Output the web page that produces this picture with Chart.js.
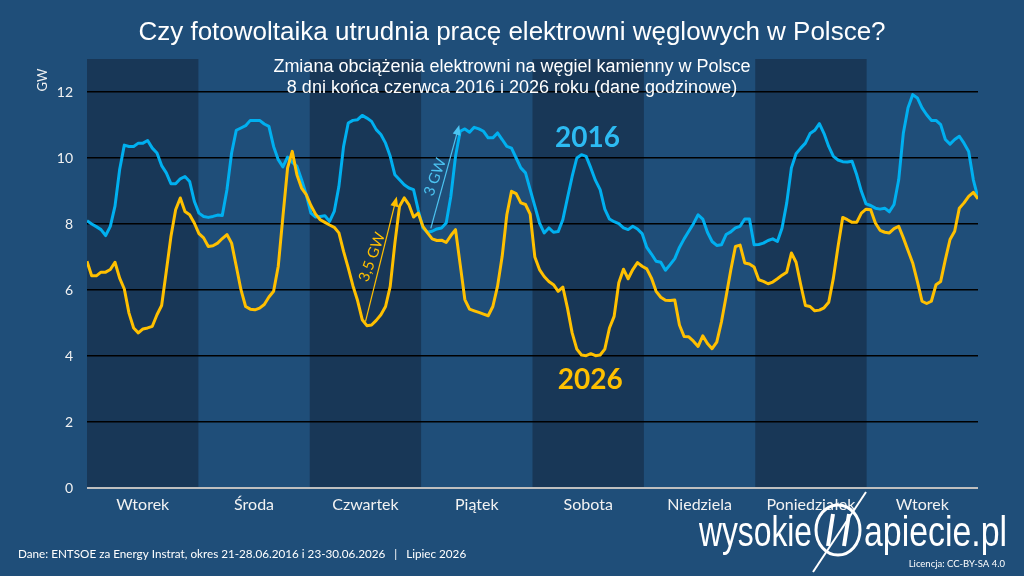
<!DOCTYPE html>
<html lang="pl">
<head>
<meta charset="utf-8">
<title>Czy fotowoltaika utrudnia pracę elektrowni węglowych w Polsce?</title>
<script src="https://cdn.jsdelivr.net/npm/chart.js@4.4.1/dist/chart.umd.min.js"></script>
<style>
    html, body { margin: 0; padding: 0; background: #1F4E79; }
    #wykres { display: block; }
</style>
</head>
<body>
<canvas id="wykres" width="1024" height="576"></canvas>
<script>
// ==============================================
// Dane (GW, dane godzinowe, 8 dni = 192 godziny)
// ==============================================

const dni = ['Wtorek', 'Środa', 'Czwartek', 'Piątek', 'Sobota', 'Niedziela', 'Poniedziałek', 'Wtorek'];

const yTicks = [0, 2, 4, 6, 8, 10, 12];

// 21-28.06.2016
const obciazenie2016 = [
    8.10, 8.00, 7.92, 7.83, 7.65, 7.93, 8.54, 9.65, 10.39, 10.35, 10.35, 10.45, 10.45, 10.53, 10.30, 10.15, 9.77, 9.55, 9.22, 9.22, 9.37, 9.44, 9.29, 8.69,
    8.33, 8.23, 8.20, 8.23, 8.27, 8.26, 9.04, 10.15, 10.84, 10.91, 10.98, 11.14, 11.14, 11.14, 11.03, 10.96, 10.35, 9.95, 9.73, 10.03, 9.87, 9.75, 9.34, 8.89,
    8.33, 8.21, 8.23, 8.25, 8.08, 8.38, 9.14, 10.35, 11.06, 11.14, 11.16, 11.29, 11.21, 11.11, 10.86, 10.71, 10.45, 10.05, 9.49, 9.34, 9.19, 9.09, 9.04, 8.43,
    7.88, 7.75, 7.78, 7.85, 7.88, 8.03, 8.84, 10.05, 10.81, 10.88, 10.78, 10.93, 10.88, 10.81, 10.61, 10.61, 10.76, 10.56, 10.35, 10.30, 10.00, 9.70, 9.55, 9.04,
    8.54, 8.03, 7.73, 7.88, 7.75, 7.77, 8.13, 8.79, 9.44, 10.00, 10.10, 10.05, 9.70, 9.32, 9.04, 8.45, 8.15, 8.07, 8.01, 7.88, 7.83, 7.93, 7.85, 7.71,
    7.29, 7.09, 6.87, 6.84, 6.60, 6.77, 6.95, 7.29, 7.55, 7.78, 8.01, 8.28, 8.15, 7.75, 7.47, 7.35, 7.37, 7.68, 7.76, 7.88, 7.93, 8.15, 8.15, 7.37,
    7.38, 7.42, 7.50, 7.55, 7.47, 7.88, 8.64, 9.70, 10.13, 10.30, 10.45, 10.74, 10.84, 11.04, 10.74, 10.35, 10.05, 9.94, 9.89, 9.88, 9.90, 9.49, 8.99, 8.61,
    8.56, 8.48, 8.45, 8.48, 8.37, 8.59, 9.34, 10.76, 11.52, 11.92, 11.82, 11.52, 11.31, 11.14, 11.14, 11.01, 10.56, 10.42, 10.56, 10.66, 10.45, 10.20, 9.34, 8.79
];

// 23-30.06.2026
const obciazenie2026 = [
    6.87, 6.43, 6.43, 6.54, 6.54, 6.62, 6.84, 6.36, 6.03, 5.30, 4.85, 4.70, 4.82, 4.85, 4.90, 5.25, 5.53, 6.57, 7.63, 8.43, 8.79, 8.38, 8.28, 8.03,
    7.71, 7.58, 7.32, 7.34, 7.42, 7.56, 7.68, 7.42, 6.72, 6.01, 5.50, 5.42, 5.40, 5.45, 5.56, 5.79, 5.96, 6.72, 8.23, 9.70, 10.20, 9.49, 9.09, 8.89,
    8.56, 8.30, 8.13, 8.05, 7.97, 7.90, 7.73, 7.17, 6.67, 6.13, 5.68, 5.10, 4.92, 4.94, 5.08, 5.25, 5.50, 6.11, 7.42, 8.54, 8.79, 8.59, 8.21, 8.33,
    7.93, 7.73, 7.55, 7.50, 7.51, 7.44, 7.65, 7.83, 6.77, 5.71, 5.42, 5.37, 5.32, 5.27, 5.22, 5.50, 6.11, 7.02, 8.28, 8.99, 8.92, 8.64, 8.59, 8.30,
    7.00, 6.62, 6.41, 6.26, 6.16, 5.96, 6.09, 5.45, 4.70, 4.21, 4.03, 4.01, 4.07, 4.01, 4.03, 4.21, 4.85, 5.20, 6.22, 6.63, 6.34, 6.62, 6.83, 6.72,
    6.64, 6.36, 5.96, 5.78, 5.69, 5.68, 5.70, 4.94, 4.59, 4.58, 4.45, 4.29, 4.61, 4.38, 4.22, 4.42, 5.03, 5.80, 6.60, 7.32, 7.36, 6.82, 6.79, 6.70,
    6.31, 6.26, 6.19, 6.24, 6.34, 6.45, 6.54, 7.12, 6.84, 6.16, 5.53, 5.50, 5.37, 5.39, 5.46, 5.63, 6.36, 7.32, 8.20, 8.13, 8.05, 8.05, 8.33, 8.45,
    8.43, 8.03, 7.81, 7.75, 7.73, 7.86, 7.93, 7.58, 7.20, 6.82, 6.26, 5.66, 5.59, 5.66, 6.16, 6.26, 6.92, 7.53, 7.78, 8.48, 8.64, 8.84, 8.96, 8.76
];

// ==============================================
// Kolory i czcionki
// ==============================================
const TLO = '#1F4E79';
const TLO_CIEMNE = '#183757';
const NIEBIESKI = '#00B0F0';
const ZOLTY = '#FFC000';
const FONT_ARIAL = '"Liberation Sans", Arial, sans-serif';
const FONT_CALIBRI = 'Lato, "Open Sans", sans-serif';

const godzinOstatnia = obciazenie2016.length - 1;

// Tło i pasy dni (co drugi dzień ciemniejszy)
const pasyDni = {
    id: 'pasyDni',
    beforeDraw: function(chart) {
        const ctx = chart.ctx;
        const area = chart.chartArea;
        const x = chart.scales.x;
        ctx.save();
        ctx.fillStyle = TLO;
        ctx.fillRect(0, 0, chart.width, chart.height);
        ctx.fillStyle = TLO_CIEMNE;
        for (let k = 0; k < dni.length; k += 2) {
            let x0 = x.getPixelForValue(godzinOstatnia * k / dni.length);
            let x1 = x.getPixelForValue(godzinOstatnia * (k + 1) / dni.length);
            ctx.fillRect(x0, area.top, x1 - x0, area.bottom - area.top);
        }
        ctx.restore();
    }
};

// Strzałka (współrzędne w jednostkach danych)
function strzalka(ctx, chart, od, do_, kolor) {
    const x = chart.scales.x, y = chart.scales.y;
    let x0 = x.getPixelForValue(od[0]), y0 = y.getPixelForValue(od[1]);
    let x1 = x.getPixelForValue(do_[0]), y1 = y.getPixelForValue(do_[1]);
    let kat = Math.atan2(y1 - y0, x1 - x0);
    ctx.save();
    ctx.strokeStyle = kolor;
    ctx.fillStyle = kolor;
    ctx.lineWidth = 1.2;
    ctx.beginPath();
    ctx.moveTo(x0, y0);
    ctx.lineTo(x1 - 6 * Math.cos(kat), y1 - 6 * Math.sin(kat));
    ctx.stroke();
    ctx.translate(x1, y1);
    ctx.rotate(kat);
    ctx.beginPath();
    ctx.moveTo(0, 0);
    ctx.lineTo(-10, -4);
    ctx.lineTo(-10, 4);
    ctx.closePath();
    ctx.fill();
    ctx.restore();
}

function tekstObrocony(ctx, chart, poz, tekst, kolor, katDeg) {
    const x = chart.scales.x, y = chart.scales.y;
    ctx.save();
    ctx.translate(x.getPixelForValue(poz[0]), y.getPixelForValue(poz[1]));
    ctx.rotate(katDeg * Math.PI / 180);
    ctx.fillStyle = kolor;
    ctx.font = '15px ' + FONT_CALIBRI;
    ctx.textAlign = 'center';
    ctx.textBaseline = 'middle';
    ctx.fillText(tekst, 0, 0);
    ctx.restore();
}

// Tekst ściśnięty poziomo do zadanej szerokości (czcionka wąska logo)
function tekstWaski(ctx, tekst, xLewo, yBazowa, szerokosc) {
    let w = ctx.measureText(tekst).width;
    ctx.save();
    ctx.translate(xLewo, yBazowa);
    ctx.scale(szerokosc / w, 1);
    ctx.textAlign = 'left';
    ctx.fillText(tekst, 0, 0);
    ctx.restore();
}

// Teksty: tytuł, podtytuł, dni, opisy, stopka, logo
const opisy = {
    id: 'opisy',
    afterDraw: function(chart) {
        const ctx = chart.ctx;
        const x = chart.scales.x, y = chart.scales.y;
        const area = chart.chartArea;
        ctx.save();

        ctx.fillStyle = '#FFFFFF';
        ctx.textAlign = 'center';
        ctx.textBaseline = 'middle';
        ctx.font = '26px ' + FONT_ARIAL;
        ctx.fillText('Czy fotowoltaika utrudnia pracę elektrowni węglowych w Polsce?', 512, 33);

        ctx.font = '18px ' + FONT_ARIAL;
        ctx.fillText('Zmiana obciążenia elektrowni na węgiel kamienny w Polsce', 512, 67);
        ctx.fillText('8 dni końca czerwca 2016 i 2026 roku (dane godzinowe)', 512, 88);

        // Dni tygodnia
        ctx.font = '16px ' + FONT_CALIBRI;
        ctx.fillStyle = '#F2F2F2';
        dni.forEach((d, k) => {
            let xc = x.getPixelForValue(godzinOstatnia * (k + 0.5) / dni.length);
            ctx.fillText(d, xc, area.bottom + 17);
        });

        // GW
        ctx.save();
        ctx.translate(43, 80);
        ctx.rotate(-Math.PI / 2);
        ctx.font = '13px ' + FONT_CALIBRI;
        ctx.fillText('GW', 0, 0);
        ctx.restore();

        // Etykiety serii
        ctx.font = 'bold 28px ' + FONT_CALIBRI;
        ctx.fillStyle = '#2DBBF2';
        ctx.fillText('2016', x.getPixelForValue(107.3), y.getPixelForValue(10.6));
        ctx.fillStyle = ZOLTY;
        ctx.fillText('2026', x.getPixelForValue(107.9), y.getPixelForValue(3.27));

        // Strzałki
        strzalka(ctx, chart, [59.7, 5.04], [66.4, 8.83], ZOLTY);
        tekstObrocony(ctx, chart, [61.1, 7.0], '3,5 GW', ZOLTY, -70);
        strzalka(ctx, chart, [73.7, 7.87], [79.8, 11.0], '#4CC4F2');
        tekstObrocony(ctx, chart, [74.6, 9.42], '3 GW', '#4CC4F2', -70);

        // Stopka
        ctx.fillStyle = '#FFFFFF';
        ctx.textAlign = 'left';
        ctx.font = '11.7px ' + FONT_CALIBRI;
        ctx.fillText('Dane: ENTSOE za Energy Instrat, okres 21-28.06.2016 i 23-30.06.2026   |   Lipiec 2026', 18, 554);
        ctx.textAlign = 'right';
        ctx.font = '9.5px ' + FONT_CALIBRI;
        ctx.fillText('Licencja: CC-BY-SA 4.0', 1005, 564);

        // Logo wysokieNapiecie.pl
        ctx.textBaseline = 'alphabetic';
        ctx.font = '42px ' + FONT_ARIAL;
        tekstWaski(ctx, 'wysokie', 699, 546, 113);
        tekstWaski(ctx, 'apiecie.pl', 864, 546, 143);
        ctx.strokeStyle = '#FFFFFF';
        ctx.lineWidth = 3;
        ctx.beginPath();
        ctx.ellipse(838, 530, 22, 25, 0, 0, Math.PI * 2);
        ctx.stroke();
        ctx.lineWidth = 4;
        ctx.beginPath();
        ctx.moveTo(828, 546);
        ctx.lineTo(833, 514);
        ctx.moveTo(844, 546);
        ctx.lineTo(849, 514);
        ctx.stroke();
        ctx.lineWidth = 2;
        ctx.beginPath();
        ctx.moveTo(866, 492);
        ctx.lineTo(813, 572);
        ctx.stroke();

        ctx.restore();
    }
};

new Chart(document.getElementById('wykres').getContext('2d'), {
    type: 'line',
    data: {
        datasets: [
            {
                label: '2026',
                data: obciazenie2026.map((v, i) => ({ x: i, y: v })),
                borderColor: ZOLTY,
                borderWidth: 3,
                pointRadius: 0,
                tension: 0,
                borderJoinStyle: 'round',
                order: 0
            },
            {
                label: '2016',
                data: obciazenie2016.map((v, i) => ({ x: i, y: v })),
                borderColor: NIEBIESKI,
                borderWidth: 3,
                pointRadius: 0,
                tension: 0,
                borderJoinStyle: 'round',
                order: 1
            }
        ]
    },
    options: {
        responsive: false,
        animation: false,
        devicePixelRatio: 1,
        layout: { padding: { left: 0, right: 46, top: 59, bottom: 88 } },
        plugins: {
            legend: { display: false },
            tooltip: { enabled: false },
            title: { display: false }
        },
        scales: {
            x: {
                type: 'linear',
                min: 0,
                max: godzinOstatnia,
                display: false
            },
            y: {
                min: 0,
                max: 13,
                afterBuildTicks: (scale) => {
                    scale.ticks = yTicks.map(v => ({ value: v }));
                },
                afterFit: (scale) => { scale.width = 87; },
                border: { display: false },
                grid: {
                    drawTicks: false,
                    color: (c) => c.tick && c.tick.value === 0 ? '#BFBFBF' : '#000000',
                    lineWidth: (c) => c.tick && c.tick.value === 0 ? 2 : 1.5
                },
                ticks: {
                    padding: 14,
                    color: '#F2F2F2',
                    font: { family: FONT_CALIBRI, size: 14 }
                }
            }
        }
    },
    plugins: [pasyDni, opisy]
});
</script>
</body>
</html>
